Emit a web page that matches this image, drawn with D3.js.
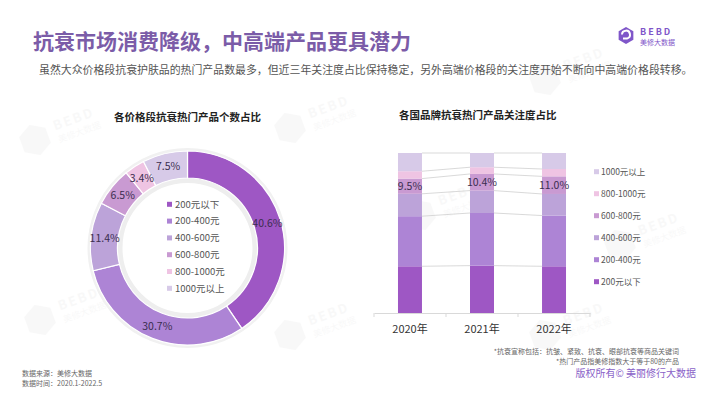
<!DOCTYPE html>
<html>
<head>
<meta charset="utf-8">
<script src="https://cdn.jsdelivr.net/npm/d3@7"></script>
<style>
    body { margin: 0; background: #fff; }
    svg { display: block; font-family: "Noto Sans CJK SC", "Noto Sans", sans-serif; }
</style>
</head>
<body>
<div id="chart"></div>
<script>
// price bands, shared by both charts
const priceBands = ["200元以下", "200-400元", "400-600元", "600-800元", "800-1000元", "1000元以上"];
const bandColors = ["#9e57c4", "#ad84d5", "#bca3d9", "#c99ad2", "#efc4e3", "#d7cae8"];

// left: share of hot products by price band (%)
const productShares = [40.6, 30.7, 11.4, 6.5, 3.4, 7.5];

// right: attention share by year (%), same band order
const years = ["2020年", "2021年", "2022年"];
const attention2020 = [29.2, 31.3, 14.0, 9.5, 4.6, 11.4];
const attention2021 = [29.6, 32.9, 14.0, 10.4, 4.2, 8.9];
const attention2022 = [29.2, 31.7, 13.5, 11.0, 4.6, 10.0];
const labelledBand = "600-800元";

const width = 710, height = 399;
const purple = "#7b5ca8";

let svg = d3.select("#chart")
            .append("svg")
            .attr("width", width)
            .attr("height", height);

function hexPath(r) {
    return d3.line()(d3.range(6).map(function(i) {
        let a = Math.PI / 3 * i + Math.PI / 6;
        return [r * Math.cos(a), r * Math.sin(a)];
    })) + "Z";
}

// faint watermarks
let marks = [[35, 140], [290, 128], [545, 80], [290, 335], [420, 215], [545, 335], [40, 320], [620, 245]];
marks.forEach(function(m) {
    let g = svg.append("g")
               .attr("transform", `translate(${m[0]}, ${m[1]}) rotate(-20)`)
               .style("opacity", 0.035);
    g.append("path")
     .attr("d", hexPath(16))
     .style("fill", "#555");
    g.append("text")
     .attr("x", 22).attr("y", -2)
     .style("font-size", "13px").style("font-weight", 700)
     .style("letter-spacing", "2px")
     .style("fill", "#555")
     .text("BEBD");
    g.append("text")
     .attr("x", 22).attr("y", 11)
     .style("font-size", "9px")
     .style("fill", "#555")
     .text("美修大数据");
});

// header
svg.append("text")
   .attr("x", 33).attr("y", 49)
   .style("font-size", "21px")
   .style("font-weight", 700)
   .style("fill", purple)
   .text("抗衰市场消费降级，中高端产品更具潜力");

svg.append("text")
   .attr("x", 39).attr("y", 74)
   .style("font-size", "10.9px")
   .style("fill", "#555")
   .text("虽然大众价格段抗衰护肤品的热门产品数最多，但近三年关注度占比保持稳定，另外高端价格段的关注度开始不断向中高端价格段转移。");

// logo
let logo = svg.append("g").attr("transform", "translate(626, 35.5)");
logo.append("path")
    .attr("d", hexPath(8.5))
    .style("fill", "#7f56c9");
logo.append("path")
    .attr("d", "M-4,-1 A4,4 0 1,1 1,3 L-3,3")
    .style("fill", "none")
    .style("stroke", "#fff")
    .style("stroke-width", 2);
logo.append("text")
    .attr("x", 14).attr("y", -0.5)
    .style("font-size", "9px").style("font-weight", 700)
    .style("letter-spacing", "2px")
    .style("fill", "#7f56c9")
    .text("BEBD");
logo.append("text")
    .attr("x", 14).attr("y", 9)
    .style("font-size", "7px")
    .style("fill", "#7f56c9")
    .text("美修大数据");

// ---------- donut ----------
let cx = 187.5, cy = 248, inner = 70, outer = 97;
let donut = svg.append("g").attr("transform", `translate(${cx}, ${cy})`);

svg.append("text")
   .attr("x", cx).attr("y", 121)
   .attr("text-anchor", "middle")
   .style("font-size", "10.5px").style("font-weight", 700)
   .style("fill", "#222")
   .text("各价格段抗衰热门产品个数占比");

let pie = d3.pie().sort(null).value(function(d) { return d; });
let arc = d3.arc().innerRadius(inner).outerRadius(outer);
let slices = pie(productShares);

donut.append("circle")
     .attr("r", outer + 1.5)
     .style("fill", "none")
     .style("stroke", "#f1f1f1")
     .style("stroke-width", 3);
donut.append("circle")
     .attr("r", inner - 2.5)
     .style("fill", "none")
     .style("stroke", "#eeeeee")
     .style("stroke-width", 5);

donut.selectAll(".slice")
     .data(slices)
     .enter()
     .append("path")
     .attr("class", "slice")
     .attr("d", arc)
     .style("fill", function(d, i) { return bandColors[i]; })
     .style("stroke", "#fff")
     .style("stroke-width", 1.2);

donut.selectAll(".slice-label")
     .data(slices)
     .enter()
     .append("text")
     .attr("class", "slice-label")
     .attr("transform", function(d) { return "translate(" + arc.centroid(d) + ")"; })
     .attr("text-anchor", "middle")
     .attr("dy", "0.35em")
     .style("font-size", "10.5px")
     .style("fill", "#3a2d4f")
     .text(function(d) { return d3.format(".1f")(d.data) + "%"; });

let donutLegend = svg.append("g").attr("transform", "translate(167, 204.3)");
priceBands.forEach(function(name, i) {
    let row = donutLegend.append("g").attr("transform", `translate(0, ${i * 16.8})`);
    row.append("rect")
       .attr("x", 0).attr("y", -2.5)
       .attr("width", 5).attr("height", 5)
       .style("fill", bandColors[i]);
    row.append("text")
       .attr("x", 8).attr("dy", "0.35em")
       .style("font-size", "9.5px")
       .style("fill", "#555")
       .text(name);
});

// ---------- stacked bars ----------
svg.append("text")
   .attr("x", 399).attr("y", 119)
   .style("font-size", "10.5px").style("font-weight", 700)
   .style("fill", "#222")
   .text("各国品牌抗衰热门产品关注度占比");

let series = [attention2020, attention2021, attention2022];
let rows = years.map(function(year, j) {
    let row = { year: year };
    priceBands.forEach(function(name, i) { row[name] = series[j][i]; });
    return row;
});
let stacked = d3.stack().keys(priceBands)(rows);

let x = d3.scaleBand()
          .domain(years)
          .range([374, 590])
          .paddingInner(0.667)
          .paddingOuter(0.333);
let y = d3.scaleLinear()
          .domain([0, 100])
          .range([313, 153]);

// connector lines between neighbouring bars
let joins = [];
stacked.forEach(function(layer) {
    for (let j = 0; j < years.length - 1; j++) {
        joins.push({ y1: layer[j][1], y2: layer[j + 1][1], a: years[j], b: years[j + 1] });
    }
});
svg.append("g")
   .selectAll("line")
   .data(joins)
   .enter()
   .append("line")
   .attr("x1", function(d) { return x(d.a) + x.bandwidth(); })
   .attr("x2", function(d) { return x(d.b); })
   .attr("y1", function(d) { return y(d.y1); })
   .attr("y2", function(d) { return y(d.y2); })
   .style("stroke", "#cfcfcf")
   .style("stroke-width", 0.8);

svg.append("g")
   .selectAll("g")
   .data(stacked)
   .enter()
   .append("g")
   .style("fill", function(d, i) { return bandColors[i]; })
   .selectAll("rect")
   .data(function(d) { return d; })
   .enter()
   .append("rect")
   .attr("x", function(d) { return x(d.data.year); })
   .attr("y", function(d) { return y(d[1]); })
   .attr("width", x.bandwidth())
   .attr("height", function(d) { return y(d[0]) - y(d[1]); });

let labelLayer = stacked.find(function(l) { return l.key == labelledBand; });
svg.append("g")
   .selectAll("text")
   .data(labelLayer)
   .enter()
   .append("text")
   .attr("x", function(d) { return x(d.data.year) + x.bandwidth() / 2; })
   .attr("y", function(d) { return y((d[0] + d[1]) / 2); })
   .attr("dy", "0.35em")
   .attr("text-anchor", "middle")
   .style("font-size", "10.5px")
   .style("fill", "#3a2d4f")
   .text(function(d) { return d3.format(".1f")(d[1] - d[0]) + "%"; });

let xAxis = d3.axisBottom(x)
              .tickSize(0)
              .tickPadding(12);
let axisG = svg.append("g")
               .attr("transform", `translate(0, ${y(0)})`)
               .call(xAxis);
axisG.select(".domain").style("stroke", "#d9d9d9");
axisG.selectAll("text")
     .style("font-size", "11px")
     .style("font-family", "Noto Sans CJK SC")
     .style("fill", "#333");
axisG.selectAll(".edge")
     .data([374, 446, 518, 590])
     .enter()
     .append("line")
     .attr("class", "edge")
     .attr("x1", function(d) { return d; })
     .attr("x2", function(d) { return d; })
     .attr("y1", 0).attr("y2", 4)
     .style("stroke", "#d9d9d9");

let barLegend = svg.append("g").attr("transform", "translate(594, 171.7)");
priceBands.slice().reverse().forEach(function(name, i) {
    let idx = priceBands.indexOf(name);
    let row = barLegend.append("g").attr("transform", `translate(0, ${i * 22})`);
    row.append("rect")
       .attr("x", 0).attr("y", -2.5)
       .attr("width", 5).attr("height", 5)
       .style("fill", bandColors[idx]);
    row.append("text")
       .attr("x", 7).attr("dy", "0.35em")
       .style("font-size", "8.5px")
       .style("fill", "#555")
       .text(name);
});

// footer
svg.append("text")
   .attr("x", 679).attr("y", 354)
   .attr("text-anchor", "end")
   .style("font-size", "7px").style("fill", "#666")
   .text("*抗衰宣称包括：抗皱、紧致、抗衰、眼部抗衰等商品关键词");
svg.append("text")
   .attr("x", 679).attr("y", 364)
   .attr("text-anchor", "end")
   .style("font-size", "7px").style("fill", "#666")
   .text("*热门产品指美修指数大于等于80的产品");
svg.append("text")
   .attr("x", 696).attr("y", 377)
   .attr("text-anchor", "end")
   .style("font-size", "10px").style("fill", "#8a62c8")
   .text("版权所有© 美丽修行大数据");
svg.append("text")
   .attr("x", 22).attr("y", 376)
   .style("font-size", "7px").style("fill", "#666")
   .text("数据来源：美修大数据");
svg.append("text")
   .attr("x", 22).attr("y", 386)
   .style("font-size", "7px").style("fill", "#666")
   .text("数据时间：2020.1-2022.5");
</script>
</body>
</html>
